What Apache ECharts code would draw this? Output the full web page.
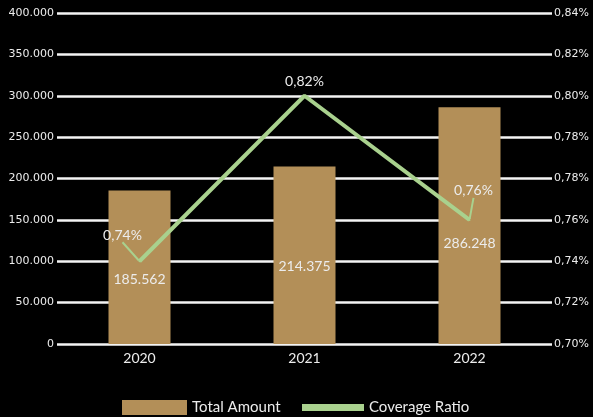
<!DOCTYPE html>
<html>
<head>
<meta charset="utf-8">
<script src="https://cdn.jsdelivr.net/npm/echarts@6/dist/echarts.min.js"></script>
<style>
  html, body { margin: 0; padding: 0; background: #000; }
  #chart { width: 593px; height: 417px; }
</style>
</head>
<body>
<div id="chart"></div>
<script>
// Years on the category axis
const years = ['2020', '2021', '2022'];
// Total amount per year
const totalAmount = [185562, 214375, 286248];
// Coverage ratio per year, in percent
const coverageRatio = [0.74, 0.82, 0.76];
// Right-hand axis tick labels, bottom to top
const ratioTickLabels = ['0,70%', '0,72%', '0,74%', '0,76%', '0,78%', '0,78%', '0,80%', '0,82%', '0,84%'];

// Label nudges (layout only)
const barLabelShift = [12, 11, 18];
const ratioLabelShift = [[-17, -14], [0, -2], [4, -17]];
const ratioLeader = [true, false, true];

const BAR_COLOR = '#b38f58';
const LINE_COLOR = '#a9d18e';
const TEXT_COLOR = '#ececec';

function thousands(v) {
  return String(Math.round(v)).replace(/\B(?=(\d{3})+(?!\d))/g, '.');
}

const chart = echarts.init(document.getElementById('chart'));
chart.setOption({
  backgroundColor: '#000',
  animation: false,
  grid: { left: 57, right: 41, top: 13, bottom: 73 },
  legend: [
    {
      data: ['Total Amount'],
      left: 117, top: 395,
      itemWidth: 65, itemHeight: 15, itemGap: 5,
      icon: 'rect',
      textStyle: { color: TEXT_COLOR, fontFamily: 'Lato', fontSize: 15 }
    },
    {
      data: ['Coverage Ratio'],
      left: 297, top: 395,
      itemWidth: 62, itemHeight: 7, itemGap: 5,
      icon: 'rect',
      textStyle: { color: TEXT_COLOR, fontFamily: 'Lato', fontSize: 15 }
    }
  ],
  xAxis: {
    type: 'category',
    data: years,
    axisLine: { show: false },
    axisTick: { show: false },
    axisLabel: { color: TEXT_COLOR, fontFamily: 'Lato', fontSize: 14, margin: 7 }
  },
  yAxis: [
    {
      type: 'value',
      min: 0, max: 400000, interval: 50000,
      axisLine: { show: false },
      axisTick: { show: false },
      splitLine: { lineStyle: { color: '#f4f4f4', width: 2.5 } },
      axisLabel: {
        color: TEXT_COLOR, fontFamily: 'DejaVu Sans', fontSize: 11, margin: 3,
        formatter: v => thousands(v)
      }
    },
    {
      type: 'value',
      min: 0.70, max: 0.86, interval: 0.02,
      axisLine: { show: false },
      axisTick: { show: false },
      splitLine: { show: false },
      axisLabel: {
        color: TEXT_COLOR, fontFamily: 'DejaVu Sans', fontSize: 11, margin: 2,
        formatter: v => ratioTickLabels[Math.round((v - 0.70) / 0.02)] || ''
      }
    }
  ],
  series: [
    {
      name: 'Total Amount',
      type: 'bar',
      yAxisIndex: 0,
      barWidth: 62,
      itemStyle: { color: BAR_COLOR },
      data: totalAmount.map((v, i) => ({
        value: v,
        label: { offset: [0, barLabelShift[i]] }
      })),
      label: {
        show: true,
        position: 'inside',
        color: TEXT_COLOR,
        fontFamily: 'Lato',
        fontSize: 14,
        formatter: p => thousands(p.value)
      },
      z: 2
    },
    {
      name: 'Coverage Ratio',
      type: 'line',
      yAxisIndex: 1,
      data: coverageRatio.map((v, i) => ({
        value: v,
        labelLine: { show: ratioLeader[i] }
      })),
      showSymbol: true,
      symbol: 'circle',
      symbolSize: 2,
      lineStyle: { color: LINE_COLOR, width: 4 },
      itemStyle: { color: LINE_COLOR },
      label: {
        show: true,
        position: 'top',
        distance: 4,
        color: TEXT_COLOR,
        fontFamily: 'Lato',
        fontSize: 14,
        formatter: p => p.value.toFixed(2).replace('.', ',') + '%'
      },
      labelLayout: p => ({ dx: ratioLabelShift[p.dataIndex][0], dy: ratioLabelShift[p.dataIndex][1] }),
      labelLine: { show: true, length2: 0, lineStyle: { color: LINE_COLOR, width: 2 } },
      z: 3
    }
  ]
});
</script>
</body>
</html>
